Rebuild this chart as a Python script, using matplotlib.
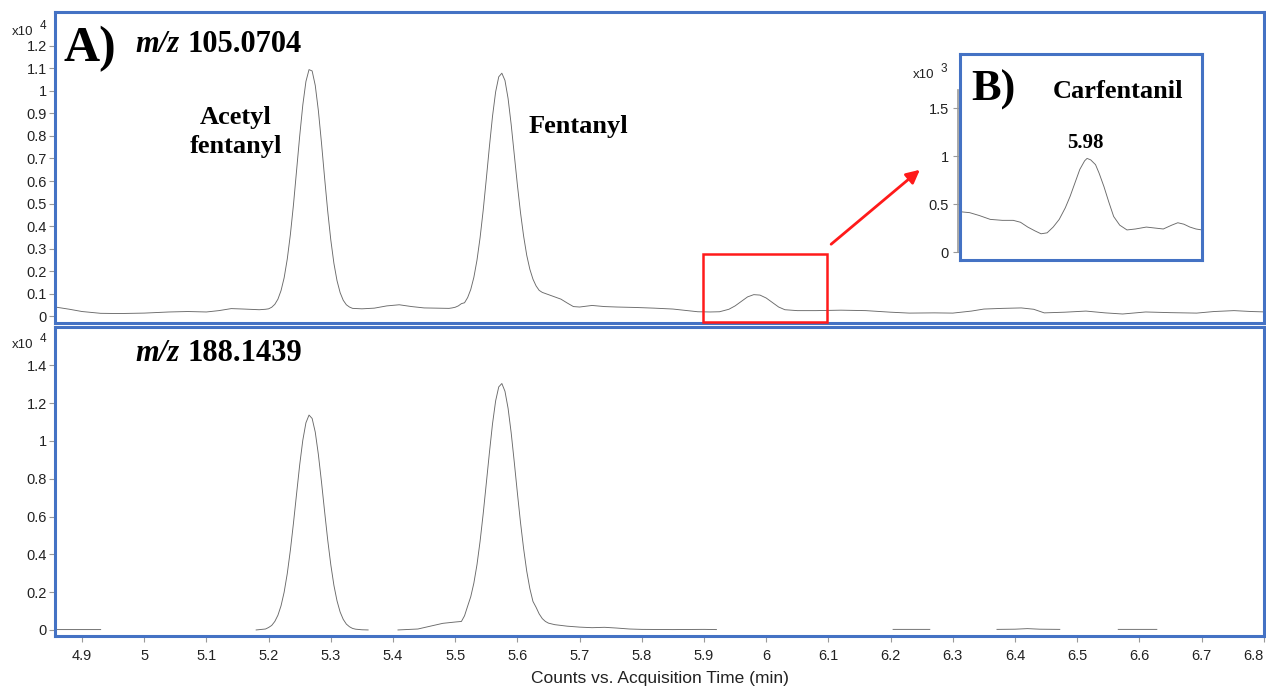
import numpy as np
import matplotlib
matplotlib.use("Agg")
import matplotlib.pyplot as plt
import matplotlib.transforms as mtransforms
from matplotlib.patches import Rectangle, FancyArrowPatch
from matplotlib.lines import Line2D

# m/z 105.0704 trace (x10^4 counts)
top_t = [4.857, 4.880, 4.900, 4.930, 4.960, 5.000, 5.040, 5.070, 5.100, 5.120, 5.140, 5.160, 5.185, 5.195,
         5.200, 5.205, 5.210, 5.215, 5.220, 5.225, 5.230, 5.235, 5.240, 5.245, 5.250, 5.255, 5.260, 5.265,
         5.270, 5.275, 5.280, 5.285, 5.290, 5.295, 5.300, 5.305, 5.310, 5.315, 5.320, 5.325, 5.330, 5.335,
         5.350, 5.370, 5.390, 5.410, 5.430, 5.450, 5.470,
         5.490, 5.495, 5.500, 5.505, 5.510, 5.515, 5.520, 5.525, 5.530, 5.535, 5.540, 5.545, 5.550, 5.555,
         5.560, 5.565, 5.570, 5.575, 5.580, 5.585, 5.590, 5.595, 5.600, 5.605, 5.610, 5.615, 5.620, 5.625,
         5.630, 5.635, 5.640, 5.650, 5.660, 5.670, 5.680, 5.690, 5.700,
         5.720, 5.740, 5.760, 5.790, 5.820, 5.850, 5.870, 5.890, 5.910, 5.925,
         5.940, 5.950, 5.960, 5.970, 5.980, 5.990, 6.000, 6.010, 6.020, 6.030,
         6.050, 6.080, 6.120, 6.160, 6.200, 6.230, 6.270, 6.300, 6.330, 6.350, 6.380, 6.410, 6.430, 6.447,
         6.480, 6.514, 6.545, 6.573, 6.610, 6.650, 6.692, 6.720, 6.752, 6.780, 6.805]
top_y = [0.040, 0.030, 0.020, 0.012, 0.011, 0.013, 0.018, 0.020, 0.018, 0.024, 0.033, 0.031, 0.028, 0.030,
         0.032, 0.039, 0.052, 0.075, 0.113, 0.170, 0.253, 0.362, 0.495, 0.646, 0.800, 0.938, 1.042, 1.095,
         1.089, 1.025, 0.913, 0.770, 0.615, 0.467, 0.338, 0.234, 0.157, 0.104, 0.070, 0.050, 0.040, 0.034,
         0.032, 0.035, 0.045, 0.050, 0.042, 0.036, 0.035,
         0.034, 0.036, 0.039, 0.045, 0.055, 0.059, 0.082, 0.118, 0.172, 0.248, 0.348, 0.470, 0.609, 0.753,
         0.888, 0.996, 1.063, 1.079, 1.047, 0.967, 0.851, 0.716, 0.582, 0.459, 0.355, 0.270, 0.208, 0.164,
         0.134, 0.114, 0.105, 0.095, 0.085, 0.075, 0.058, 0.042, 0.040,
         0.047, 0.042, 0.040, 0.038, 0.035, 0.031, 0.025, 0.019, 0.018, 0.019,
         0.030, 0.045, 0.065, 0.085, 0.095, 0.093, 0.080, 0.060, 0.040, 0.028,
         0.024, 0.024, 0.026, 0.024, 0.017, 0.013, 0.014, 0.013, 0.022, 0.031, 0.034, 0.036, 0.030, 0.014,
         0.017, 0.022, 0.014, 0.009, 0.018, 0.015, 0.013, 0.020, 0.024, 0.020, 0.018]

# m/z 188.1439 trace (x10^4 counts), nan = no trace drawn
nan = np.nan
bot_t = [4.857, 4.930, 4.950,
         5.180, 5.195, 5.200, 5.205, 5.210, 5.215, 5.220, 5.225, 5.230, 5.235, 5.240, 5.245, 5.250, 5.255,
         5.260, 5.265, 5.270, 5.275, 5.280, 5.285, 5.290, 5.295, 5.300, 5.305, 5.310, 5.315, 5.320, 5.325,
         5.330, 5.335, 5.340, 5.350, 5.360, 5.380,
         5.408, 5.440, 5.460, 5.480, 5.500, 5.510, 5.515, 5.520, 5.525, 5.530, 5.535, 5.540, 5.545, 5.550,
         5.555, 5.560, 5.565, 5.570, 5.575, 5.580, 5.585, 5.590, 5.595, 5.600, 5.605, 5.610, 5.615, 5.620,
         5.625, 5.630, 5.635, 5.640, 5.645, 5.650, 5.660, 5.670, 5.680, 5.700, 5.720, 5.740, 5.760, 5.780,
         5.800, 5.850, 5.900, 5.920, 5.940,
         6.204, 6.263, 6.280,
         6.371, 6.400, 6.420, 6.440, 6.472, 6.500,
         6.566, 6.628]
bot_y = [0.002, 0.002, nan,
         0.000, 0.005, 0.013, 0.024, 0.045, 0.078, 0.128, 0.200, 0.298, 0.422, 0.566, 0.721, 0.874, 1.004,
         1.096, 1.137, 1.119, 1.047, 0.929, 0.784, 0.628, 0.477, 0.345, 0.236, 0.154, 0.095, 0.056, 0.031,
         0.017, 0.008, 0.004, 0.001, 0.000, nan,
         0.000, 0.005, 0.020, 0.035, 0.042, 0.045, 0.075, 0.126, 0.176, 0.248, 0.345, 0.469, 0.615, 0.776,
         0.938, 1.091, 1.212, 1.286, 1.304, 1.263, 1.173, 1.043, 0.887, 0.724, 0.568, 0.430, 0.311, 0.219,
         0.151, 0.120, 0.085, 0.060, 0.045, 0.036, 0.028, 0.024, 0.020, 0.015, 0.012, 0.014, 0.010, 0.005,
         0.003, 0.002, 0.003, 0.002, nan,
         0.003, 0.003, nan,
         0.003, 0.004, 0.007, 0.004, 0.003, nan,
         0.003, 0.003]

# Carfentanil zoom (x10^3 counts)
inset_t = [5.875, 5.883, 5.891, 5.900, 5.910, 5.919, 5.925, 5.931, 5.937, 5.942, 5.947, 5.952, 5.957,
           5.962, 5.966, 5.970, 5.974, 5.978, 5.980, 5.983, 5.987, 5.990, 5.994, 5.998, 6.002, 6.007,
           6.013, 6.020, 6.029, 6.036, 6.043, 6.050, 6.055, 6.060, 6.065, 6.070, 6.075]
inset_y = [0.42, 0.41, 0.38, 0.34, 0.33, 0.33, 0.31, 0.26, 0.22, 0.19, 0.20, 0.26, 0.34,
           0.46, 0.58, 0.72, 0.86, 0.95, 0.975, 0.96, 0.91, 0.82, 0.68, 0.52, 0.37, 0.28,
           0.23, 0.24, 0.26, 0.25, 0.24, 0.28, 0.305, 0.29, 0.26, 0.24, 0.23]

top_ticks = [0, 0.1, 0.2, 0.3, 0.4, 0.5, 0.6, 0.7, 0.8, 0.9, 1.0, 1.1, 1.2]
bot_ticks = [0, 0.2, 0.4, 0.6, 0.8, 1.0, 1.2, 1.4]
inset_ticks = [0, 0.5, 1.0, 1.5]
x_ticks = [4.9, 5.0, 5.1, 5.2, 5.3, 5.4, 5.5, 5.6, 5.7, 5.8, 5.9, 6.0, 6.1, 6.2, 6.3, 6.4, 6.5, 6.6, 6.7, 6.8]

W, H = 1266, 688
BLUE = '#4472C4'
LINE = '#6a6a6a'
SANS = 'Liberation Sans'
SERIF = 'Liberation Serif'


def box(x0, y0, x1, y1):
    return [x0 / W, 1 - y1 / H, (x1 - x0) / W, (y1 - y0) / H]


def fx(x):
    return x / W


def fy(y):
    return 1 - y / H


def fmt(v):
    return '%g' % v


fig = plt.figure(figsize=(W / 100, H / 100), dpi=100)
ax1 = fig.add_axes(box(55, 12, 1264, 323))
ax2 = fig.add_axes(box(55, 327, 1264, 636))
axi = fig.add_axes(box(960, 54, 1202, 260))

for ax in (ax1, ax2, axi):
    for s in ax.spines.values():
        s.set_color(BLUE)
        s.set_linewidth(2.2)
    ax.tick_params(axis='y', direction='out', length=4, width=0.8, color='#999999',
                   labelsize=10.5, labelcolor='#222222', pad=2)

ax1.plot(top_t, top_y, color=LINE, lw=0.65)
ax1.set_xlim(4.8566, 6.8003)
ax1.set_ylim(-0.031, 1.351)
ax1.set_xticks([])
ax1.set_yticks(top_ticks)
ax1.set_yticklabels([fmt(v) for v in top_ticks], fontfamily=SANS)

ax2.plot(bot_t, bot_y, color=LINE, lw=0.65)
ax2.set_xlim(4.8566, 6.8003)
ax2.set_ylim(-0.032, 1.603)
ax2.set_yticks(bot_ticks)
ax2.set_yticklabels([fmt(v) for v in bot_ticks], fontfamily=SANS)
ax2.set_xticks(x_ticks)
ax2.set_xticklabels([fmt(v) for v in x_ticks], fontfamily=SANS)
ax2.tick_params(axis='x', direction='out', length=4, width=0.8, color='#999999',
                labelsize=10.5, labelcolor='#222222', pad=5)
ax2.set_xlabel('Counts vs. Acquisition Time (min)', fontfamily=SANS, fontsize=12.5,
               color='#222222', labelpad=6)
# last tick label sits at the figure edge: nudge it inside
last = ax2.get_xticklabels()[-1]
last.set_transform(last.get_transform() + mtransforms.ScaledTranslation(-10 / 100, 0, fig.dpi_scale_trans))

axi.plot(inset_t, inset_y, color=LINE, lw=0.65)
axi.set_xlim(5.875, 6.075)
axi.set_ylim(-0.083, 2.0625)
axi.set_xticks([])
axi.set_yticks(inset_ticks)
axi.set_yticklabels([fmt(v) for v in inset_ticks], fontfamily=SANS)
axi.tick_params(axis='y', length=5, pad=3)
fig.add_artist(Line2D([fx(958), fx(958)], [fy(252), fy(90)], color='#999999', lw=1.2))

# red box around the carfentanil region and the arrow to the zoom
ax1.add_patch(Rectangle((5.8984, -0.0267), 0.1994, 0.3023, fill=False, edgecolor='#FF1A1A',
                        lw=1.8, zorder=5, clip_on=False))
fig.add_artist(FancyArrowPatch((fx(829), fy(246)), (fx(922), fy(168)),
                               transform=fig.transFigure, arrowstyle='-|>',
                               mutation_scale=20, color='#FF1A1A', lw=2))

# exponent labels
for xx, yy, e in ((12, 35, '4'), (12, 348, '4'), (913, 78, '3')):
    fig.text(fx(xx), fy(yy), 'x10', fontfamily=SANS, fontsize=9.5, color='#222222', va='baseline')
    fig.text(fx(xx + 28), fy(yy - 6), e, fontfamily=SANS, fontsize=8.5, color='#222222', va='baseline')

# panel annotations
fig.text(fx(64), fy(61), 'A)', fontfamily=SERIF, fontweight='bold', fontsize=36, va='baseline')
fig.text(fx(135), fy(52), 'm/z', fontfamily=SERIF, fontweight='bold', style='italic', fontsize=22,
         va='baseline')
fig.text(fx(187), fy(52), '105.0704', fontfamily=SERIF, fontweight='bold', fontsize=22, va='baseline')
fig.text(fx(135), fy(361), 'm/z', fontfamily=SERIF, fontweight='bold', style='italic', fontsize=22,
         va='baseline')
fig.text(fx(187), fy(361), '188.1439', fontfamily=SERIF, fontweight='bold', fontsize=22, va='baseline')
fig.text(fx(236), fy(132), 'Acetyl\nfentanyl', fontfamily=SERIF, fontweight='bold', fontsize=19,
         ha='center', va='center', linespacing=1.3)
fig.text(fx(578), fy(127), 'Fentanyl', fontfamily=SERIF, fontweight='bold', fontsize=19,
         ha='center', va='center')
fig.text(fx(971), fy(101), 'B)', fontfamily=SERIF, fontweight='bold', fontsize=32, va='baseline')
fig.text(fx(1118), fy(92), 'Carfentanil', fontfamily=SERIF, fontweight='bold', fontsize=19,
         ha='center', va='center')
fig.text(fx(1085), fy(143), '5.98', fontfamily=SERIF, fontweight='bold', fontsize=15,
         ha='center', va='center')

fig.savefig('out.png', dpi=100)
